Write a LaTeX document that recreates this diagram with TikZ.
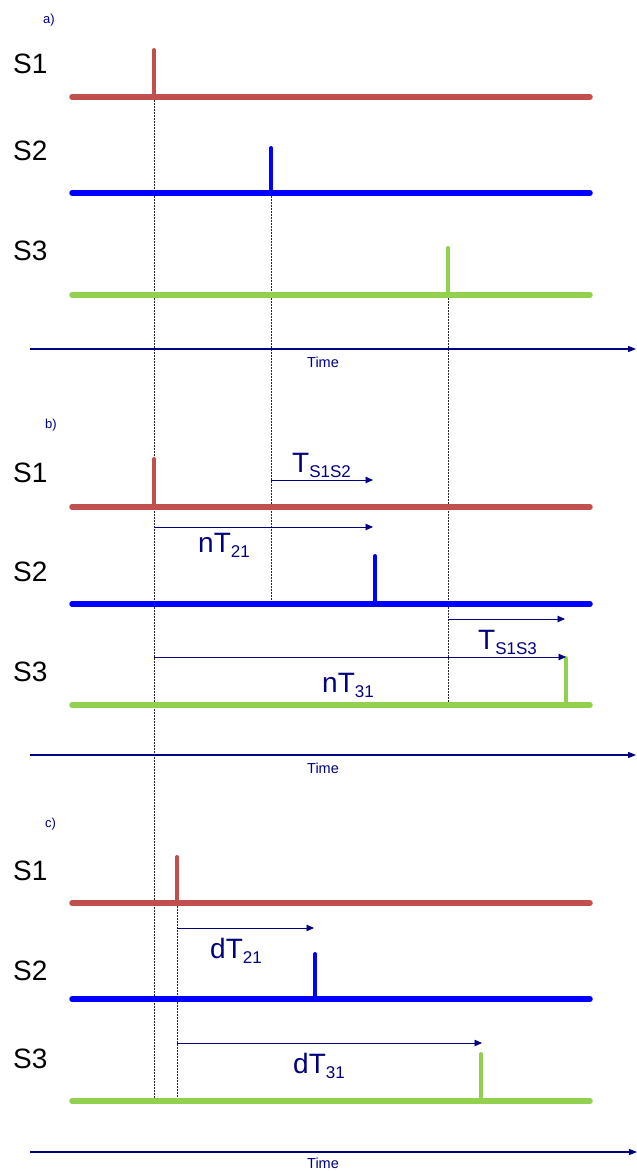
\documentclass[tikz,border=0pt]{standalone}
\usepackage{fontspec}
\setmainfont{Liberation Sans}
\usetikzlibrary{arrows.meta}
\definecolor{sigred}{RGB}{192,80,77}
\definecolor{sigblue}{RGB}{0,0,255}
\definecolor{siggreen}{RGB}{146,208,80}
\definecolor{timenavy}{RGB}{0,0,128}
\newcommand{\lowsub}[1]{\raisebox{-5pt}{\fontsize{17}{18}\selectfont #1}}

\begin{document}
\begin{tikzpicture}[x=1pt,y=-1pt,
  base/.style={line width=5.5pt,line cap=round},
  spike/.style={line width=4pt,line cap=round},
  delay/.style={draw=timenavy,line width=0.9pt,-{Triangle[length=7.5pt,width=6.5pt]}},
  timeaxis/.style={draw=timenavy,line width=1.2pt,-{Triangle[length=8pt,width=6pt]}},
  guide/.style={draw=black!85,line width=0.9pt,dash pattern=on 2pt off 1pt},
  chan/.style={anchor=base west,inner sep=0pt,font=\fontsize{28}{30}\selectfont},
  part/.style={anchor=base west,inner sep=0pt,text=timenavy,font=\fontsize{13}{14}\selectfont},
  tlbl/.style={anchor=base west,inner sep=0pt,text=timenavy,font=\fontsize{14.5}{16}\selectfont},
  dlbl/.style={anchor=base west,inner sep=0pt,text=timenavy,font=\fontsize{28}{30}\selectfont}]
\useasboundingbox (0,0) rectangle (637,1171);

%Coordinates: a)
\coordinate (a1w) at (72,97);   \coordinate (a1e) at (590,97);
\coordinate (a1p) at (154,97);  \coordinate (a1t) at (154,50);
\coordinate (a2w) at (72,193);  \coordinate (a2e) at (590,193);
\coordinate (a2p) at (271,193); \coordinate (a2t) at (271,148);
\coordinate (a3w) at (72,295);  \coordinate (a3e) at (590,295);
\coordinate (a3p) at (448,295); \coordinate (a3t) at (448,248);
\coordinate (ta0) at (30,349);  \coordinate (ta1) at (636,349);
%Coordinates: b)
\coordinate (b1w) at (72,507);  \coordinate (b1e) at (590,507);
\coordinate (b1p) at (154,507); \coordinate (b1t) at (154,459);
\coordinate (b2w) at (72,604);  \coordinate (b2e) at (590,604);
\coordinate (b2g) at (271,604);
\coordinate (b2p) at (375,604); \coordinate (b2t) at (375,556);
\coordinate (b3w) at (72,705);  \coordinate (b3e) at (590,705);
\coordinate (b3g) at (448,705);
\coordinate (b3p) at (566,705); \coordinate (b3t) at (566,658);
\coordinate (tb0) at (30,755);  \coordinate (tb1) at (636,755);
%Coordinates: c)
\coordinate (c1w) at (72,903);  \coordinate (c1e) at (590,903);
\coordinate (c1p) at (177,903); \coordinate (c1t) at (177,857);
\coordinate (c2w) at (72,999);  \coordinate (c2e) at (590,999);
\coordinate (c2p) at (315,999); \coordinate (c2t) at (315,954);
\coordinate (c3w) at (72,1101); \coordinate (c3e) at (590,1101);
\coordinate (c3g) at (154,1101); \coordinate (c3h) at (177,1101);
\coordinate (c3p) at (481,1101); \coordinate (c3t) at (481,1054);
\coordinate (tc0) at (30,1152); \coordinate (tc1) at (637,1152);

%Guides
\draw[guide] (a1p) -- (c3g);
\draw[guide] (a2p) -- (b2g);
\draw[guide] (a3p) -- (b3g);
\draw[guide] (c1p) -- (c3h);

%Signals: a)
\draw[base,sigred] (a1w) -- (a1e);   \draw[spike,sigred] (a1p) -- (a1t);
\draw[base,sigblue] (a2w) -- (a2e);  \draw[spike,sigblue] (a2p) -- (a2t);
\draw[base,siggreen] (a3w) -- (a3e); \draw[spike,siggreen] (a3p) -- (a3t);
\draw[timeaxis] (ta0) -- (ta1);
%Signals: b)
\draw[base,sigred] (b1w) -- (b1e);   \draw[spike,sigred] (b1p) -- (b1t);
\draw[base,sigblue] (b2w) -- (b2e);  \draw[spike,sigblue] (b2p) -- (b2t);
\draw[base,siggreen] (b3w) -- (b3e); \draw[spike,siggreen] (b3p) -- (b3t);
\draw[timeaxis] (tb0) -- (tb1);
%Signals: c)
\draw[base,sigred] (c1w) -- (c1e);   \draw[spike,sigred] (c1p) -- (c1t);
\draw[base,sigblue] (c2w) -- (c2e);  \draw[spike,sigblue] (c2p) -- (c2t);
\draw[base,siggreen] (c3w) -- (c3e); \draw[spike,siggreen] (c3p) -- (c3t);
\draw[timeaxis] (tc0) -- (tc1);

%Delays
\coordinate (ds2a) at (271,480); \coordinate (ds2b) at (373,480);
\coordinate (n21a) at (154,527); \coordinate (n21b) at (373,527);
\coordinate (ds3a) at (448,619); \coordinate (ds3b) at (565,619);
\coordinate (n31a) at (154,657); \coordinate (n31b) at (566,657);
\coordinate (d21a) at (177,928); \coordinate (d21b) at (314,928);
\coordinate (d31a) at (177,1043); \coordinate (d31b) at (482,1043);
\draw[delay] (ds2a) -- (ds2b);
\draw[delay] (n21a) -- (n21b);
\draw[delay] (ds3a) -- (ds3b);
\draw[delay] (n31a) -- (n31b);
\draw[delay] (d21a) -- (d21b);
\draw[delay] (d31a) -- (d31b);

% Text Node
\node[part] (parta) at (43,23) {a)};
\node[part] (partb) at (45,428) {b)};
\node[part] (partc) at (45,827) {c)};
\node[chan] (sa1) at (13,73) {S1};
\node[chan] (sa2) at (13,160) {S2};
\node[chan] (sa3) at (13,260) {S3};
\node[chan] (sb1) at (13,482) {S1};
\node[chan] (sb2) at (13,581) {S2};
\node[chan] (sb3) at (13,681) {S3};
\node[chan] (sc1) at (13,880) {S1};
\node[chan] (sc2) at (13,980) {S2};
\node[chan] (sc3) at (13,1068) {S3};
\node[tlbl] (timea) at (307,367) {Time};
\node[tlbl] (timeb) at (307,773) {Time};
\node[tlbl] (timec) at (307,1168) {Time};
\node[dlbl] (ts12) at (292,472) {T\lowsub{S1S2}};
\node[dlbl] (nt21) at (198,552) {nT\lowsub{21}};
\node[dlbl] (ts13) at (478,649) {T\lowsub{S1S3}};
\node[dlbl] (nt31) at (322,692) {nT\lowsub{31}};
\node[dlbl] (dt21) at (210,958) {dT\lowsub{21}};
\node[dlbl] (dt31) at (293,1073) {dT\lowsub{31}};
\end{tikzpicture}
\end{document}
